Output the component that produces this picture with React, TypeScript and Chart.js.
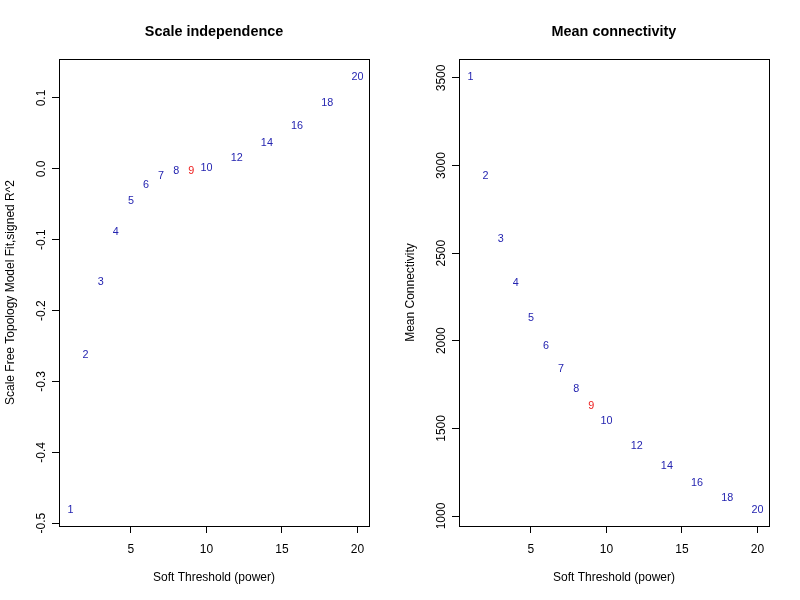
import React, { useEffect, useRef } from "react";
import { Chart, registerables } from "chart.js";

Chart.register(...registerables);

// ---- data ----
const powers = [1, 2, 3, 4, 5, 6, 7, 8, 9, 10, 12, 14, 16, 18, 20];
const scaleFitR2 = [
  -0.481, -0.2625, -0.16, -0.0893, -0.0457, -0.0222, -0.0095, -0.0034, -0.0024,
  0.0014, 0.0155, 0.0367, 0.0607, 0.0929, 0.1296,
];
const meanConnectivity = [
  3506, 2943, 2582, 2329, 2130, 1971, 1840, 1726, 1629, 1542, 1399, 1285, 1189,
  1103, 1034,
];
const selectedPower = 9;
const xTicks = [5, 10, 15, 20];
const yTicksFit = [-0.5, -0.4, -0.3, -0.2, -0.1, 0.0, 0.1];
const yTicksConn = [1000, 1500, 2000, 2500, 3000, 3500];

const FONT = "'Liberation Sans', Arial, sans-serif";
const BLUE = "#2424b0";
const RED = "#ee2020";

type PanelCfg = {
  title: string;
  yTitle: string;
  values: number[];
  yTicks: number[];
  yMin: number;
  yMax: number;
  fmt: (v: number) => string;
};

function makeRStylePlugin(cfg: PanelCfg) {
  return {
    id: "rStyle",
    afterDraw(chart: any) {
      const { ctx, chartArea: a, scales } = chart;
      const xs = scales.x;
      const ys = scales.y;
      ctx.save();
      // box
      ctx.strokeStyle = "#000";
      ctx.lineWidth = 1;
      ctx.strokeRect(
        Math.round(a.left) + 0.5,
        Math.round(a.top) + 0.5,
        Math.round(a.right - a.left),
        Math.round(a.bottom - a.top)
      );
      const cx = (a.left + a.right) / 2;
      const cy = (a.top + a.bottom) / 2;
      ctx.fillStyle = "#000";
      // main title
      ctx.font = `bold 14.4px ${FONT}`;
      ctx.textAlign = "center";
      ctx.textBaseline = "alphabetic";
      ctx.fillText(cfg.title, cx, 36);
      // x tick labels
      ctx.font = `12px ${FONT}`;
      xs.ticks.forEach((t: any) => {
        ctx.fillText(String(t.value), xs.getPixelForValue(t.value), 553);
      });
      // x title
      ctx.fillText("Soft Threshold (power)", cx, 581);
      // y tick labels (rotated)
      ys.ticks.forEach((t: any) => {
        const py = ys.getPixelForValue(t.value);
        ctx.save();
        ctx.translate(44.5, py);
        ctx.rotate(-Math.PI / 2);
        ctx.textAlign = "center";
        ctx.textBaseline = "alphabetic";
        ctx.fillText(cfg.fmt(t.value), 0, 0);
        ctx.restore();
      });
      // y title
      ctx.save();
      ctx.translate(13.5, cy);
      ctx.rotate(-Math.PI / 2);
      ctx.textAlign = "center";
      ctx.fillText(cfg.yTitle, 0, 0);
      ctx.restore();
      // point labels
      const meta = chart.getDatasetMeta(0);
      ctx.font = `10.8px ${FONT}`;
      ctx.textAlign = "center";
      ctx.textBaseline = "middle";
      meta.data.forEach((el: any, i: number) => {
        ctx.fillStyle = powers[i] === selectedPower ? RED : BLUE;
        ctx.fillText(String(powers[i]), el.x, el.y);
      });
      ctx.restore();
    },
  };
}

function Panel({ cfg }: { cfg: PanelCfg }) {
  const ref = useRef<HTMLCanvasElement | null>(null);
  useEffect(() => {
    if (!ref.current) return;
    const gridOpts = {
      display: true,
      drawOnChartArea: false,
      drawTicks: true,
      tickLength: 7,
      color: "#000",
      lineWidth: 1,
    };
    const chart = new Chart(ref.current, {
      type: "scatter",
      data: {
        datasets: [
          {
            data: powers.map((p, i) => ({ x: p, y: cfg.values[i] })),
            pointRadius: 0,
            pointHoverRadius: 0,
          },
        ],
      },
      options: {
        responsive: false,
        animation: false,
        events: [],
        layout: { padding: { top: 59, right: 31, left: 0, bottom: 0 } },
        plugins: {
          legend: { display: false },
          tooltip: { enabled: false },
          title: { display: false },
        },
        scales: {
          x: {
            type: "linear",
            min: 0.24,
            max: 20.76,
            afterBuildTicks: (s: any) => {
              s.ticks = xTicks.map((v) => ({ value: v }));
            },
            afterFit: (s: any) => {
              s.height = 74;
            },
            ticks: { display: false },
            grid: gridOpts,
            border: { display: false },
          },
          y: {
            type: "linear",
            min: cfg.yMin,
            max: cfg.yMax,
            afterBuildTicks: (s: any) => {
              s.ticks = cfg.yTicks.map((v) => ({ value: v }));
            },
            afterFit: (s: any) => {
              s.width = 59;
            },
            ticks: { display: false },
            grid: gridOpts,
            border: { display: false },
          },
        },
      },
      plugins: [makeRStylePlugin(cfg)],
    });
    return () => chart.destroy();
  }, [cfg]);
  return (
    <canvas
      ref={ref}
      width={400}
      height={600}
      style={{ display: "block", width: 400, height: 600 }}
    />
  );
}

const leftCfg: PanelCfg = {
  title: "Scale independence",
  yTitle: "Scale Free Topology Model Fit,signed R^2",
  values: scaleFitR2,
  yTicks: yTicksFit,
  yMin: -0.504,
  yMax: 0.155,
  fmt: (v) => v.toFixed(1),
};

const rightCfg: PanelCfg = {
  title: "Mean connectivity",
  yTitle: "Mean Connectivity",
  values: meanConnectivity,
  yTicks: yTicksConn,
  yMin: 943,
  yMax: 3608,
  fmt: (v) => String(v),
};

export default function App() {
  return (
    <div
      style={{
        position: "absolute",
        left: 0,
        top: 0,
        width: 800,
        height: 600,
        background: "#fff",
        display: "flex",
      }}
    >
      <Panel cfg={leftCfg} />
      <Panel cfg={rightCfg} />
    </div>
  );
}
